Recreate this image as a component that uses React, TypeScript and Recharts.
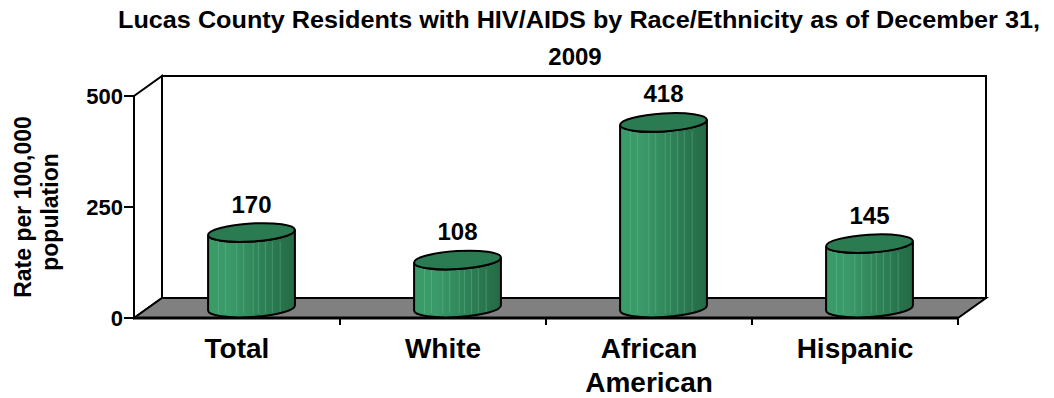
import { BarChart, Bar, XAxis, YAxis, Customized, LabelList } from 'recharts';

const categories = ['Total', 'White', 'African American', 'Hispanic'];
const rates = [170, 108, 418, 145];
const yTicks = [0, 250, 500];
const titleLines = ['Lucas County Residents with HIV/AIDS by Race/Ethnicity as of December 31,', '2009'];
const yTitleLines = ['Rate per 100,000', 'population'];

const data = categories.map((name, i) => ({ name, rate: rates[i] }));

const W = 1054;
const H = 398;
const MARGIN = { top: 96, right: 96, bottom: 0, left: 70 };
const Y_W = 64;
const X_H = 80;
// 3D depth offset of the back wall
const DX = 28;
const DY = -20;
const FONT = '"Liberation Sans", Arial, sans-serif';

const left = MARGIN.left + Y_W;
const right = W - MARGIN.right;
const top = MARGIN.top;
const bottom = H - MARGIN.bottom - X_H;

function Frame() {
  const boundaries = categories.map((_, i) => left + ((i + 1) * (right - left)) / categories.length);
  return (
    <g>
      {/* title */}
      <text x={579} y={28} textAnchor="middle" fontFamily={FONT} fontWeight="bold" fontSize={24} fill="#000" textLength={922} lengthAdjust="spacingAndGlyphs">
        {titleLines[0]}
      </text>
      <text x={575} y={65} textAnchor="middle" fontFamily={FONT} fontWeight="bold" fontSize={24} fill="#000">
        {titleLines[1]}
      </text>
      {/* y title */}
      <text transform="translate(31,207) rotate(-90)" textAnchor="middle" fontFamily={FONT} fontWeight="bold" fontSize={23} fill="#000">
        {yTitleLines.map((t, i) => (
          <tspan key={i} x={i * -5} y={i * 27}>{t}</tspan>
        ))}
      </text>
      {/* back wall */}
      <rect x={left + DX} y={top + DY} width={right - left} height={bottom - top} fill="#fff" stroke="#000" strokeWidth={2} />
      {/* left wall */}
      <polygon
        points={`${left},${top} ${left + DX},${top + DY} ${left + DX},${bottom + DY} ${left},${bottom}`}
        fill="#fff"
        stroke="#000"
        strokeWidth={2}
      />
      {/* floor */}
      <polygon
        points={`${left},${bottom} ${right},${bottom} ${right + DX},${bottom + DY} ${left + DX},${bottom + DY}`}
        fill="#808080"
        stroke="#000"
        strokeWidth={2}
      />
      <line x1={left} y1={bottom} x2={right} y2={bottom} stroke="#000" strokeWidth={3} />
      {boundaries.map((bx, i) => (
        <line key={i} x1={bx} y1={bottom} x2={bx} y2={bottom + 7} stroke="#000" strokeWidth={2} />
      ))}
      <defs>
        <linearGradient id="cyl" x1="0" y1="0" x2="1" y2="0">
          <stop offset="0%" stopColor="#3a9a68" />
          <stop offset="25%" stopColor="#3b9a69" />
          <stop offset="60%" stopColor="#2e8257" />
          <stop offset="100%" stopColor="#246a45" />
        </linearGradient>
      </defs>
    </g>
  );
}

const TILT = -3.5;
const RY = 9;

function Cylinder(props: any) {
  const { x, y, width, height } = props;
  const rx = width / 2;
  const cx = x + rx + DX / 2;
  const yTop = y + DY / 2;
  const yBot = y + height + DY / 2;
  const a = (TILT * Math.PI) / 180;
  const ox = rx * Math.cos(a);
  const oy = rx * Math.sin(a);
  const lt = [cx - ox, yTop - oy];
  const rt = [cx + ox, yTop + oy];
  const lb = [cx - ox, yBot - oy];
  const rb = [cx + ox, yBot + oy];
  const body = `M${lt[0]},${lt[1]} L${lb[0]},${lb[1]} A${rx},${RY} ${TILT} 0 0 ${rb[0]},${rb[1]} L${rt[0]},${rt[1]} A${rx},${RY} ${TILT} 0 1 ${lt[0]},${lt[1]} Z`;
  const stripes = [0.12, 0.2, 0.33, 0.41, 0.52, 0.58, 0.66, 0.74, 0.83];
  return (
    <g>
      <path d={body} fill="url(#cyl)" stroke="none" />
      {stripes.map((f, i) => {
        const sx = cx - ox + f * 2 * ox;
        return (
          <line key={i} x1={sx} y1={yTop + RY} x2={sx} y2={yBot + RY * 0.6} stroke="#7fc6a0" strokeOpacity={0.35} strokeWidth={1} />
        );
      })}
      <path d={body} fill="none" stroke="#000" strokeWidth={2} />
      <ellipse cx={cx} cy={yTop} rx={rx} ry={RY} transform={`rotate(${TILT} ${cx} ${yTop})`} fill="#2b7b52" stroke="#000" strokeWidth={2} />
    </g>
  );
}

function ValueLabel(props: any) {
  const { x, y, width, value } = props;
  return (
    <text x={x + width / 2 + DX / 2} y={y + DY / 2 - 20} textAnchor="middle" fontFamily={FONT} fontWeight="bold" fontSize={24} fill="#000">
      {value}
    </text>
  );
}

function CategoryTick(props: any) {
  const { x, y, payload } = props;
  const words = payload.value === 'African American' ? ['African', 'American'] : [payload.value];
  return (
    <text x={x} y={y} textAnchor="middle" fontFamily={FONT} fontWeight="bold" fontSize={28} fill="#000">
      {words.map((w, i) => (
        <tspan key={i} x={x} y={y + 40 + i * 34}>{w}</tspan>
      ))}
    </text>
  );
}

function RateTick(props: any) {
  const { x, y, payload } = props;
  return (
    <text x={x} y={y + 8} textAnchor="end" fontFamily={FONT} fontWeight="bold" fontSize={22} fill="#000">
      {payload.value}
    </text>
  );
}

export default function App() {
  return (
    <div style={{ position: 'absolute', left: 0, top: 0, width: W, height: H, background: '#fff' }}>
      <BarChart width={W} height={H} data={data} margin={MARGIN} barSize={87}>
        <Customized component={<Frame />} />
        <XAxis
          dataKey="name"
          height={X_H}
          axisLine={false}
          tickLine={false}
          tickSize={0}
          tickMargin={0}
          interval={0}
          tick={<CategoryTick />}
        />
        <YAxis
          width={Y_W}
          domain={[0, 500]}
          ticks={yTicks}
          tickSize={10}
          tickMargin={1}
          axisLine={{ stroke: '#000', strokeWidth: 2 }}
          tickLine={{ stroke: '#000', strokeWidth: 2 }}
          tick={<RateTick />}
        />
        <Bar dataKey="rate" shape={<Cylinder />} isAnimationActive={false}>
          <LabelList dataKey="rate" content={<ValueLabel />} />
        </Bar>
      </BarChart>
    </div>
  );
}
